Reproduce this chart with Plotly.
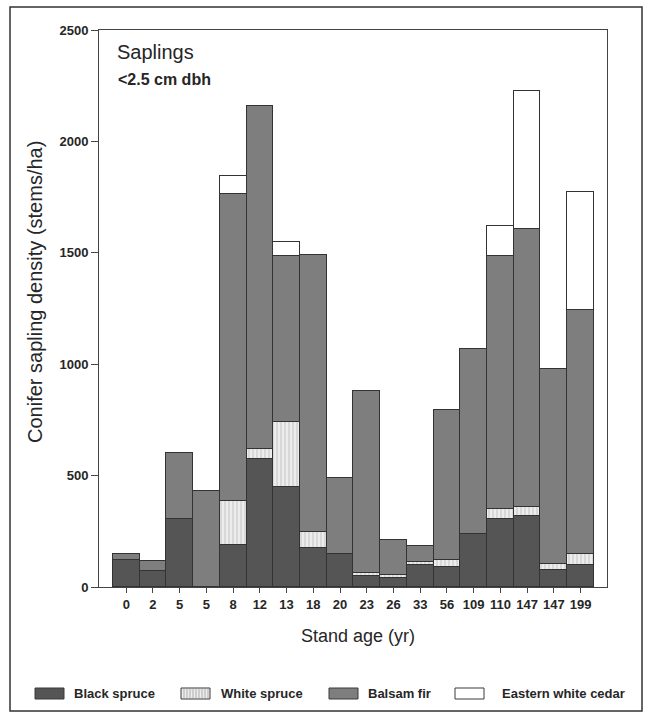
import plotly.graph_objects as go

ages = ["0", "2", "5", "5", "8", "12", "13", "18", "20", "23", "26", "33", "56", "109", "110", "147", "147", "199"]
black_spruce = [120, 70, 305, 0, 190, 575, 450, 175, 150, 50, 40, 100, 92, 240, 305, 320, 75, 100]
white_spruce = [0, 0, 0, 0, 195, 45, 290, 70, 0, 15, 12, 10, 27, 0, 45, 38, 30, 50]
balsam_fir = [30, 45, 295, 432, 1380, 1540, 745, 1245, 340, 815, 160, 75, 676, 830, 1135, 1247, 875, 1095]
eastern_white_cedar = [0, 0, 0, 0, 80, 0, 65, 0, 0, 0, 0, 0, 0, 0, 135, 620, 0, 530]

series_names = ["Black spruce", "White spruce", "Balsam fir", "Eastern white cedar"]
idx = list(range(len(ages)))

FONT = "Liberation Sans, Arial, sans-serif"
TXT = "#262626"
C_BS = "#555555"
C_WS = "#ececec"
C_BF = "#7e7e7e"
C_EC = "#ffffff"
LINE = dict(color="#333333", width=1)

fig = go.Figure()
fig.add_trace(go.Bar(x=idx, y=black_spruce, name=series_names[0],
                     marker=dict(color=C_BS, line=LINE)))
fig.add_trace(go.Bar(x=idx, y=white_spruce, name=series_names[1],
                     marker=dict(color=C_WS, line=LINE,
                                 pattern=dict(shape="|", fgcolor="#9a9a9a", bgcolor=C_WS, size=4, solidity=0.25))))
fig.add_trace(go.Bar(x=idx, y=balsam_fir, name=series_names[2],
                     marker=dict(color=C_BF, line=LINE)))
fig.add_trace(go.Bar(x=idx, y=eastern_white_cedar, name=series_names[3],
                     marker=dict(color=C_EC, line=LINE)))

# plot area in pixels: x 99..607, y 30..587
L, R, T, B = 99, 607, 30, 587
W, H = R - L, B - T
def px(x):
    return (x - L) / W
def py(y):
    return (B - y) / H

shapes = []
# outer frame
shapes.append(dict(type="rect", xref="paper", yref="paper",
                   x0=px(10), x1=px(642), y0=py(711), y1=py(7),
                   line=dict(color="#333333", width=1.5), fillcolor="rgba(0,0,0,0)", layer="below"))

annotations = []
annotations.append(dict(text="Saplings", xref="paper", yref="paper", x=px(115), y=py(52),
                        xanchor="left", yanchor="middle", showarrow=False,
                        font=dict(family=FONT, size=20, color=TXT)))
annotations.append(dict(text="<b><2.5 cm dbh</b>", xref="paper", yref="paper", x=px(116), y=py(79),
                        xanchor="left", yanchor="middle", showarrow=False,
                        font=dict(family=FONT, size=16, color=TXT)))
annotations.append(dict(text="Conifer sapling density (stems/ha)", xref="paper", yref="paper",
                        x=px(35), y=py(292), textangle=-90, xanchor="center", yanchor="middle",
                        showarrow=False, font=dict(family=FONT, size=20, color=TXT)))
annotations.append(dict(text="Stand age (yr)", xref="paper", yref="paper",
                        x=px(358), y=py(636), xanchor="center", yanchor="middle",
                        showarrow=False, font=dict(family=FONT, size=18, color=TXT)))

# custom legend
legend_items = [
    (series_names[0], 35, 72, C_BS),
    (series_names[1], 181, 219, C_WS),
    (series_names[2], 329, 366, C_BF),
    (series_names[3], 455, 500, C_EC),
]
ly0, ly1 = 688, 699
for name, x0, tx, col in legend_items:
    shapes.append(dict(type="rect", xref="paper", yref="paper",
                       x0=px(x0), x1=px(x0 + 29), y0=py(ly1), y1=py(ly0),
                       fillcolor=col, line=dict(color="#3a3a3a", width=1)))
    if name == "White spruce":
        for k in range(1, 10):
            xx = x0 + k * 3
            shapes.append(dict(type="line", xref="paper", yref="paper",
                               x0=px(xx), x1=px(xx), y0=py(ly1 - 1), y1=py(ly0 + 1),
                               line=dict(color="#b0b0b0", width=1)))
    annotations.append(dict(text="<b>" + name + "</b>", xref="paper", yref="paper", x=px(tx), y=py(694),
                            xanchor="left", yanchor="middle", showarrow=False,
                            font=dict(family=FONT, size=13, color=TXT)))

fig.update_layout(
    width=649, height=715,
    margin=dict(l=L, r=649 - R, t=T, b=715 - B),
    barmode="stack", bargap=0,
    plot_bgcolor="white", paper_bgcolor="white",
    showlegend=False,
    shapes=shapes, annotations=annotations,
    xaxis=dict(tickmode="array", tickvals=idx, ticktext=["<b>%s</b>" % a for a in ages], range=[-1.02, 17.99],
               showline=True, linecolor="#444", linewidth=1, mirror=True,
               ticks="outside", ticklen=5, tickcolor="#444",
               showgrid=False, zeroline=False,
               tickfont=dict(family=FONT, size=13, color=TXT)),
    yaxis=dict(range=[0, 2500], tickvals=[0, 500, 1000, 1500, 2000, 2500],
               ticktext=["<b>0</b>", "<b>500</b>", "<b>1000</b>", "<b>1500</b>", "<b>2000</b>", "<b>2500</b>"],
               showline=True, linecolor="#444", linewidth=1, mirror=True,
               ticks="outside", ticklen=7, tickcolor="#444",
               showgrid=False, zeroline=False,
               tickfont=dict(family=FONT, size=13, color=TXT)),
)

fig.write_html("out.html")
